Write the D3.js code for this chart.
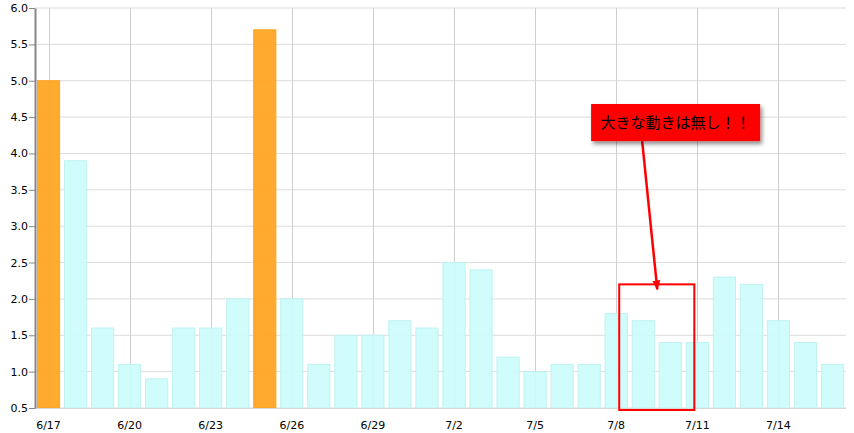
<!DOCTYPE html>
<html>
<head>
<meta charset="utf-8">
<script src="https://cdn.jsdelivr.net/npm/d3@7"></script>
<style>
body { margin: 0; background: #fff; }
text { font-family: Verdana, "DejaVu Sans", sans-serif; }
</style>
</head>
<body>
<script>

var dates = ["6/17","6/18","6/19","6/20","6/21","6/22","6/23","6/24","6/25","6/26",
             "6/27","6/28","6/29","6/30","7/1","7/2","7/3","7/4","7/5","7/6",
             "7/7","7/8","7/9","7/10","7/11","7/12","7/13","7/14","7/15","7/16"];
var values = [5.0,3.9,1.6,1.1,0.9,1.6,1.6,2.0,5.7,2.0,
              1.1,1.5,1.5,1.7,1.6,2.5,2.4,1.2,1.0,1.1,
              1.1,1.8,1.7,1.4,1.4,2.3,2.2,1.7,1.4,1.1];
var highlight = ["6/17","6/25"];
var yTicks = [0.5,1.0,1.5,2.0,2.5,3.0,3.5,4.0,4.5,5.0,5.5,6.0];
var xTickLabels = ["6/17","6/20","6/23","6/26","6/29","7/2","7/5","7/8","7/11","7/14"];
var noteText = "大きな動きは無し！！";

var margin = {top: 8, right: 8, bottom: 25, left: 35};
var width = 854 - margin.left - margin.right;
var height = 433 - margin.top - margin.bottom;

var svg = d3.select("body").append("svg")
    .attr("width", 854)
    .attr("height", 433)
    .append("g")
    .attr("transform", "translate(" + margin.left + "," + margin.top + ")");

var x = d3.scaleBand().domain(dates).range([0, width]).paddingInner(0.18).paddingOuter(0.09);
var y = d3.scaleLinear().domain([0.5, 6.0]).range([height, 0]);

var defs = svg.append("defs");
var shadow = defs.append("filter").attr("id", "shadow").attr("x", "-20%").attr("y", "-30%").attr("width", "140%").attr("height", "180%");
shadow.append("feDropShadow").attr("dx", 2).attr("dy", 3).attr("stdDeviation", 2).attr("flood-color", "#000").attr("flood-opacity", 0.45);
defs.append("marker")
    .attr("id", "arrow")
    .attr("viewBox", "0 0 10 10")
    .attr("refX", 9).attr("refY", 5)
    .attr("markerWidth", 4).attr("markerHeight", 5)
    .attr("orient", "auto")
    .append("path").attr("d", "M0,1 L10,5 L0,9 Z").attr("fill", "#ff0000");

// horizontal grid
svg.append("g").selectAll("line").data(yTicks).join("line")
    .attr("x1", 0).attr("x2", width)
    .attr("y1", d => y(d)).attr("y2", d => y(d))
    .attr("stroke", "#dcdcdc").attr("stroke-width", 1);

// vertical grid
svg.append("g").selectAll("line").data(xTickLabels).join("line")
    .attr("x1", d => Math.round(x(d) + x.bandwidth() / 2) + 0.5)
    .attr("x2", d => Math.round(x(d) + x.bandwidth() / 2) + 0.5)
    .attr("y1", 0).attr("y2", height)
    .attr("stroke", "#cfcfcf").attr("stroke-width", 1);

// bars
svg.append("g").selectAll("rect").data(values).join("rect")
    .attr("x", (d, i) => x(dates[i]))
    .attr("y", d => y(d))
    .attr("width", x.bandwidth())
    .attr("height", d => height - y(d))
    .attr("fill", (d, i) => highlight.indexOf(dates[i]) >= 0 ? "#ffa41e" : "#ccfcfc")
    .attr("fill-opacity", 0.92)
    .attr("stroke", (d, i) => highlight.indexOf(dates[i]) >= 0 ? "#ffa41e" : "#bff2f2")
    .attr("stroke-width", 1);

// bottom line
svg.append("line")
    .attr("x1", 0).attr("x2", width)
    .attr("y1", height + 0.5).attr("y2", height + 0.5)
    .attr("stroke", "#d8d8d8");

// y axis
var yAxis = d3.axisLeft(y).tickValues(yTicks).tickFormat(d3.format(".1f")).tickSize(6).tickSizeOuter(0);
var ya = svg.append("g").call(yAxis);
ya.select(".domain").attr("stroke", "#888").attr("stroke-width", 2);
ya.selectAll(".tick line").attr("stroke", "#888");
ya.selectAll(".tick text").attr("x", -7).attr("font-size", "11px").attr("fill", "#000")
    .style("font-family", "Verdana, 'DejaVu Sans', sans-serif");

// x labels
svg.append("g").selectAll("text").data(xTickLabels).join("text")
    .attr("x", d => x(d) + x.bandwidth() / 2)
    .attr("y", height + 21)
    .attr("text-anchor", "middle")
    .attr("font-size", "11px")
    .attr("fill", "#000")
    .text(d => d);

// annotation: highlight box around 7/9 - 7/10
var i0 = dates.indexOf("7/8"), i1 = dates.indexOf("7/11");
var bx0 = x(dates[i0]) + x.bandwidth() / 2 + 3;
var bx1 = x(dates[i1]) + x.bandwidth() / 2 - 3;
svg.append("rect")
    .attr("x", bx0).attr("y", y(2.2))
    .attr("width", bx1 - bx0)
    .attr("height", height - y(2.2) + 2)
    .attr("fill", "none")
    .attr("stroke", "#ff0000").attr("stroke-width", 2);

var tipX = (bx0 + bx1) / 2 + 0.5;
var labelX = x("7/9") + 10, labelY = y(4.68);
svg.append("line")
    .attr("x1", labelX).attr("y1", y(4.17))
    .attr("x2", tipX).attr("y2", y(2.13))
    .attr("stroke", "#ff0000").attr("stroke-width", 2.5)
    .attr("marker-end", "url(#arrow)");

var note = svg.append("g").attr("transform", "translate(" + (x("7/7") + 13) + "," + labelY + ")");
note.append("rect")
    .attr("width", 169).attr("height", y(4.17) - labelY)
    .attr("fill", "#ff0000")
    .attr("filter", "url(#shadow)");
note.append("text")
    .attr("x", 84.5).attr("y", 24)
    .attr("text-anchor", "middle")
    .attr("font-size", "15px")
    .attr("fill", "#000")
    .style("font-family", "'Noto Sans CJK JP', sans-serif")
    .text(noteText);

</script>
</body>
</html>
